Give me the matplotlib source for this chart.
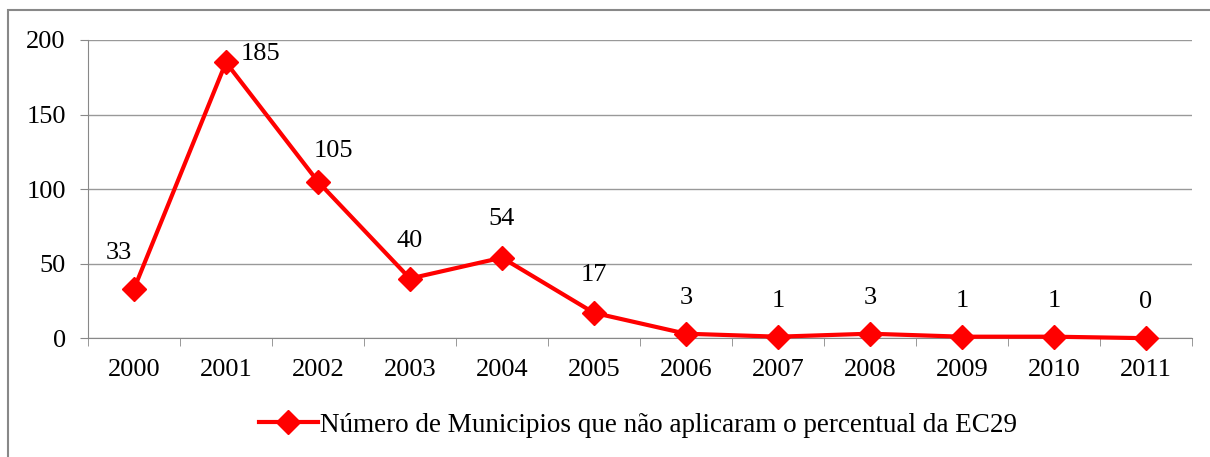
import matplotlib.pyplot as plt
from matplotlib.patches import Rectangle

years = ["2000", "2001", "2002", "2003", "2004", "2005",
         "2006", "2007", "2008", "2009", "2010", "2011"]
municipios = [33, 185, 105, 40, 54, 17, 3, 1, 3, 1, 1, 0]
label = "Número de Municipios que não aplicaram o percentual da EC29"

# label offsets in points (dx, dy)
offsets = [(-11, 26), (25, 6), (11, 22), (0, 27), (0, 28), (0, 27),
           (0, 26), (0, 26), (0, 26), (0, 26), (0, 26), (0, 26)]

plt.rcParams["font.family"] = ["Liberation Serif", "DejaVu Serif"]

fig = plt.figure(figsize=(12.1, 4.57), dpi=100)
ax = fig.add_axes([0.0727, 0.260, 0.9123, 0.6525])

x = list(range(len(years)))
ax.plot(x, municipios, color="#ff0000", lw=3, marker="D", ms=12,
        label=label, zorder=3, clip_on=False)

for xi, v, (dx, dy) in zip(x, municipios, offsets):
    ax.annotate(str(v), (xi, v), xytext=(dx, dy), textcoords="offset points",
                ha="center", va="center", fontsize=19)

ax.set_xlim(-0.5, len(years) - 0.5)
ax.set_ylim(0, 200)
ax.set_yticks([0, 50, 100, 150, 200])
ax.set_xticks(x)
ax.set_xticklabels(years)
ax.set_xticks([i - 0.5 for i in range(len(years) + 1)], minor=True)
ax.tick_params(axis="x", which="major", length=0, labelsize=19, pad=15)
ax.tick_params(axis="x", which="minor", length=6, color="#888888")
ax.tick_params(axis="y", length=6, color="#888888", labelsize=19, pad=10)

ax.grid(axis="y", color="#999999", lw=1)
ax.set_axisbelow(True)
for s in ["top", "right"]:
    ax.spines[s].set_visible(False)
for s in ["left", "bottom"]:
    ax.spines[s].set_color("#888888")

fig.legend(loc="center", bbox_to_anchor=(0.527, 0.07), frameon=False,
           fontsize=19.5, handlelength=2.2, handletextpad=0.05)

fig.patches.append(Rectangle((8 / 1210, -0.1), 1.2, 1.1 - 10 / 457,
                             transform=fig.transFigure, fill=False,
                             edgecolor="#888888", lw=1.5))

fig.savefig("out.png", dpi=100)
